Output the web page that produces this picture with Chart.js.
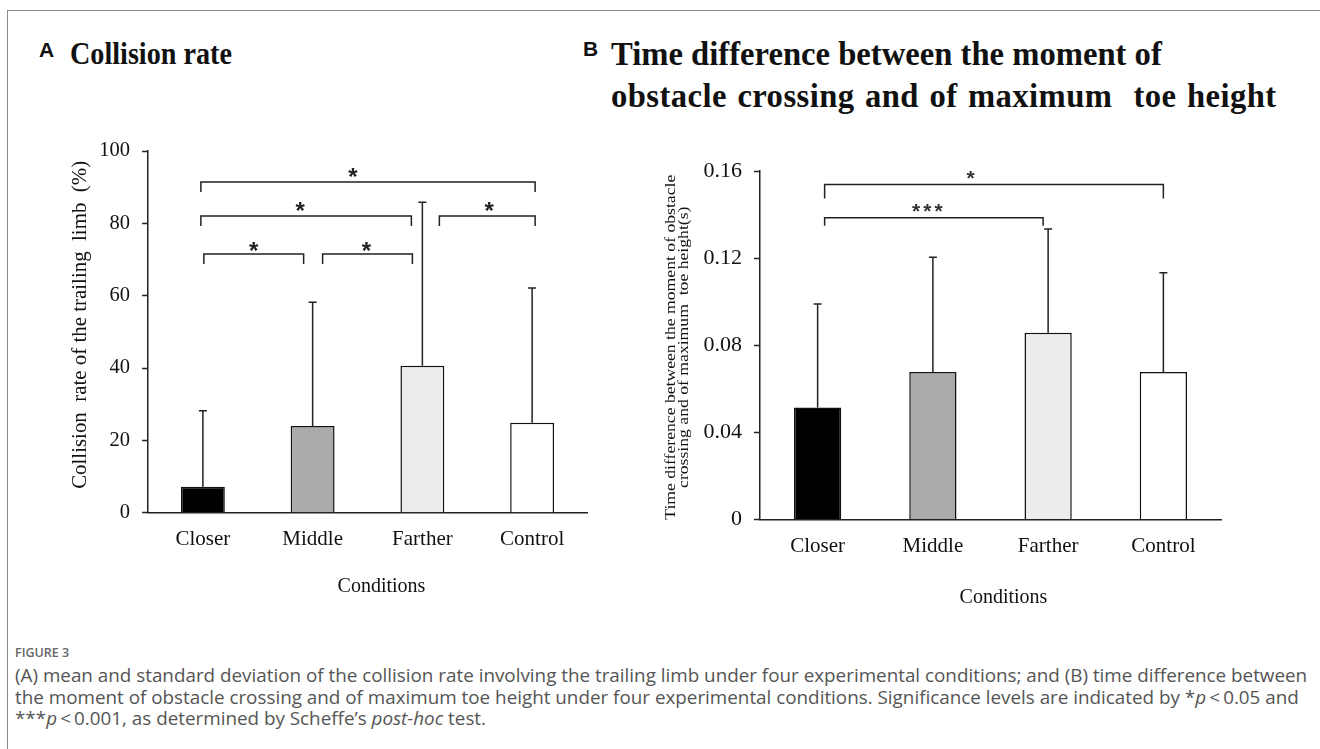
<!DOCTYPE html>
<html><head><meta charset="utf-8">
<script src="https://cdn.jsdelivr.net/npm/chart.js@4.4.1/dist/chart.umd.min.js"></script>
<style>
html,body{margin:0;padding:0;background:#fff;}
body{width:1320px;height:749px;position:relative;overflow:hidden;}
#frame{position:absolute;left:7px;top:10px;width:1400px;height:800px;border-top:1px solid #8a8a8a;border-left:1px solid #8a8a8a;}
canvas{position:absolute;top:0;}
.lab{position:absolute;font-family:"Liberation Sans",Arial,sans-serif;font-weight:bold;font-size:21px;line-height:24px;color:#111;}
.ttl{position:absolute;font-family:"Liberation Serif","Times New Roman",serif;font-weight:bold;color:#111;white-space:nowrap;transform-origin:0 0;}
.cap{position:absolute;left:15px;font-family:"Open Sans",sans-serif;color:#555;white-space:nowrap;line-height:20px;font-size:15px;}
</style></head>
<body>
<div id="frame"></div>
<div class="lab" style="left:39px;top:38px;">A</div>
<div class="ttl" style="left:70px;top:37px;font-size:32px;line-height:32px;transform:scaleX(0.88);">Collision rate</div>
<div class="lab" style="left:583px;top:37px;">B</div>
<div class="ttl" style="left:611px;top:33px;font-size:34px;line-height:42px;transform:scaleX(0.96);">Time difference between the moment of<br><span style="word-spacing:2px;letter-spacing:0.45px;">obstacle crossing and of maximum&nbsp; toe height</span></div>
<canvas id="cA" width="640" height="640" style="left:0;width:640px;height:640px;"></canvas>
<canvas id="cB" width="680" height="640" style="left:640px;width:680px;height:640px;"></canvas>
<div class="cap" style="top:643px;font-size:12.5px;font-weight:600;color:#666;">FIGURE 3</div>
<div class="cap capl" id="l1" style="top:665px;">(A) mean and standard deviation of the collision rate involving the trailing limb under four experimental conditions; and (B) time difference between</div>
<div class="cap capl" id="l2" style="top:687px;">the moment of obstacle crossing and of maximum toe height under four experimental conditions. Significance levels are indicated by *<i>p</i>&#8201;&lt;&#8201;0.05 and</div>
<div class="cap capl" id="l3" style="top:708px;">***<i>p</i>&#8201;&lt;&#8201;0.001, as determined by Scheffe’s <i>post-hoc</i> test.</div>
<script>
// ---------- data ----------
const categories = ['Closer', 'Middle', 'Farther', 'Control'];
const collisionMean = [7.2, 24.0, 40.6, 24.9];
const collisionSD   = [21.0, 34.2, 45.2, 37.2];
const timeMean = [0.0514, 0.0677, 0.0857, 0.0677];
const timeSD   = [0.0475, 0.0527, 0.0477, 0.0456];
const ticksA = [0, 20, 40, 60, 80, 100];
const ticksB = [0, 0.04, 0.08, 0.12, 0.16];
const tickLabelsB = ['0', '0.04', '0.08', '0.12', '0.16'];
const compFromA  = [0, 0, 2, 0, 1];
const compToA    = [3, 2, 3, 1, 2];
const compLabelA = ['*', '*', '*', '*', '*'];
const compLevelA = [91.4, 82.0, 82.0, 71.5, 71.5];
const compFromB  = [0, 0];
const compToB    = [3, 2];
const compLabelB = ['*', '***'];
const compLevelB = [0.1538, 0.1385];
const barColors = ['#000000', '#aaaaaa', '#ececec', '#ffffff'];
const yTitleA = ['Collision  rate of the trailing  limb  (%)'];
const yTitleB = ['Time difference between the moment of obstacle', 'crossing and of maximum  toe height(s)'];
const xTitle = 'Conditions';

// ---------- styles for annotations (pixel offsets) ----------
const bracketStyleA = [
  {da:-2, db:3, drop:10, sx:-15, sy:10},
  {da:-2, db:-11, drop:10, sx:-6, sy:10},
  {da:17, db:3, drop:10, sx:2, sy:10},
  {da:1, db:-9, drop:10, sx:0, sy:8},
  {da:10, db:-10, drop:10, sx:-1, sy:8}
];
const bracketStyleB = [
  {da:7, db:0, drop:14, sx:-22, sy:10},
  {da:7, db:-5, drop:8, sx:-5, sy:10}
];

const annot = {
  id: 'annot',
  afterDatasetsDraw(chart, args, o) {
    const ctx = chart.ctx, x = chart.scales.x, y = chart.scales.y;
    const meta = chart.getDatasetMeta(0);
    ctx.save();
    ctx.strokeStyle = '#222'; ctx.lineWidth = 1.5; ctx.lineCap = 'butt';
    o.means.forEach((m, i) => {
      const cx = meta.data[i].x;
      const y0 = y.getPixelForValue(m), y1 = y.getPixelForValue(m + o.sd[i]);
      ctx.beginPath();
      ctx.moveTo(cx, y0); ctx.lineTo(cx, y1);
      ctx.moveTo(cx - 4, y1); ctx.lineTo(cx + 4, y1);
      ctx.stroke();
    });
    o.from.forEach((a, k) => {
      const st = o.style[k];
      const xa = x.getPixelForValue(a) + st.da;
      const xb = x.getPixelForValue(o.to[k]) + st.db;
      const yl = y.getPixelForValue(o.level[k]);
      ctx.strokeStyle = '#222'; ctx.lineWidth = 1.5;
      ctx.beginPath();
      ctx.moveTo(xa, yl + st.drop); ctx.lineTo(xa, yl); ctx.lineTo(xb, yl); ctx.lineTo(xb, yl + st.drop);
      ctx.stroke();
      ctx.font = o.starFont; ctx.fillStyle = o.starColor;
      ctx.textAlign = 'center'; ctx.textBaseline = 'alphabetic';
      if ('letterSpacing' in ctx) ctx.letterSpacing = o.starSpacing;
      const lab = o.labels[k];
      const mt = ctx.measureText(lab);
      const cy = yl - st.sy;
      const base = cy + (mt.actualBoundingBoxAscent - mt.actualBoundingBoxDescent) / 2;
      ctx.fillText(lab, (xa + xb) / 2 + st.sx, base);
      if ('letterSpacing' in ctx) ctx.letterSpacing = '0px';
    });
    const ca = chart.chartArea;
    // x axis title
    ctx.font = '20px "Liberation Serif"'; ctx.fillStyle = '#111';
    ctx.textAlign = 'center'; ctx.textBaseline = 'middle';
    ctx.fillText(o.xTitle, (ca.left + ca.right) / 2 + o.xTitleDx, ca.bottom + o.xTitleDy);
    // y axis title (rotated, stretched to the reference length)
    if (o.yLines) {
      ctx.font = o.yFont;
      const w0 = ctx.measureText(o.yLines[0]).width;
      const stretch = o.yLen / w0;
      const cy = (ca.top + ca.bottom) / 2 + o.yDy;
      o.yLines.forEach((line, i) => {
        ctx.save();
        ctx.translate(o.yX[i], cy);
        ctx.rotate(-Math.PI / 2);
        ctx.scale(stretch, 1);
        ctx.textAlign = 'center'; ctx.textBaseline = 'middle';
        ctx.fillText(line, 0, 0);
        ctx.restore();
      });
    }
    ctx.restore();
  }
};

function makeChart(id, opt) {
  return new Chart(document.getElementById(id), {
    type: 'bar',
    data: {
      labels: categories,
      datasets: [{
        data: opt.means,
        backgroundColor: barColors,
        borderColor: '#111',
        borderWidth: 1.5,
        barPercentage: opt.barPct,
        categoryPercentage: 1.0
      }]
    },
    options: {
      responsive: false,
      animation: false,
      devicePixelRatio: 1,
      layout: { padding: opt.padding },
      plugins: {
        legend: { display: false },
        tooltip: { enabled: false },
        annot: opt.annot
      },
      scales: {
        x: {
          afterFit(s) { s.height = 60; },
          ticks: { font: { family: 'Liberation Serif', size: 21 }, color: '#111', padding: 14, maxRotation: 0 },
          grid: { display: false, drawTicks: false },
          border: { display: true, color: '#222', width: 1.5 }
        },
        y: {
          min: opt.min, max: opt.max,
          afterFit(s) { s.width = opt.yWidth; },
          afterBuildTicks(s) { s.ticks = opt.ticks.map(v => ({ value: v })); },
          ticks: {
            font: { family: 'Liberation Serif', size: opt.yTickSize }, color: '#111', padding: 12,
            callback: opt.tickCb
          },
          grid: { display: true, drawOnChartArea: false, drawTicks: true, tickLength: 6, tickColor: '#222', tickWidth: 1.5, color: '#222' },
          border: { display: true, color: '#222', width: 1.5 },
          title: { display: false }
        }
      }
    },
    plugins: [annot]
  });
}

makeChart('cA', {
  means: collisionMean, barPct: 0.40, min: 0, max: 100, ticks: ticksA, yWidth: 88, yTickSize: 20.5,
  padding: { left: 60, right: 53, top: 151, bottom: 67.3 },
  tickCb: (v) => String(v),
  annot: { means: collisionMean, sd: collisionSD, from: compFromA, to: compToA, labels: compLabelA,
           level: compLevelA, style: bracketStyleA, starFont: 'bold 24px "Liberation Sans"', starColor: '#222',
           starSpacing: '0px', xTitle: xTitle, xTitleDx: 14, xTitleDy: 74,
           yLines: yTitleA, yFont: '21px "Liberation Serif"', yLen: 328, yX: [80], yDy: -7 }
});

makeChart('cB', {
  means: timeMean, barPct: 0.41, min: 0, max: 0.16, ticks: ticksB, yWidth: 102, yTickSize: 22,
  padding: { left: 18, right: 99, top: 171, bottom: 60.5 },
  tickCb: (v, i) => tickLabelsB[i],
  annot: { means: timeMean, sd: timeSD, from: compFromB, to: compToB, labels: compLabelB,
           level: compLevelB, style: bracketStyleB, starFont: 'bold 21px "Liberation Sans"', starColor: '#333',
           starSpacing: '3px', xTitle: xTitle, xTitleDx: 13, xTitleDy: 78,
           yLines: yTitleB, yFont: '14.5px "Liberation Serif"', yLen: 345, yX: [31, 44], yDy: 2 }
});

// fit caption width
(function(){
  const l1 = document.getElementById('l1');
  l1.style.display = 'inline-block';
  const w = l1.getBoundingClientRect().width;
  const size = 15 * 1293 / w;
  document.querySelectorAll('.capl').forEach(e => { e.style.fontSize = size.toFixed(2) + 'px'; });
})();
</script>
</body></html>
